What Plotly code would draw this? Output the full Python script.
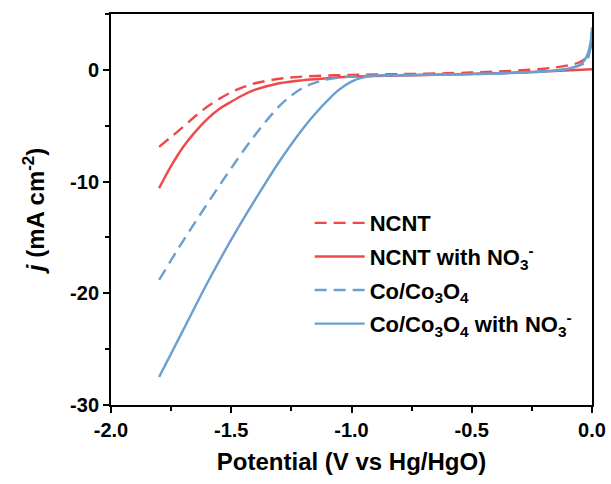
import plotly.graph_objects as go

# NCNT (dashed red)
ncnt_x = [-1.80, -1.75, -1.70, -1.65, -1.60, -1.55, -1.50, -1.45, -1.40, -1.30, -1.20, -1.00, -0.80, -0.60, -0.40, -0.20, -0.10, -0.05, -0.02, 0.00]
ncnt_y = [-6.9, -6.0, -5.1, -4.15, -3.3, -2.6, -2.0, -1.55, -1.2, -0.80, -0.60, -0.45, -0.38, -0.30, -0.15, 0.10, 0.40, 0.70, 1.20, 2.50]

# NCNT with NO3- (solid red)
ncnt_no3_x = [-1.80, -1.75, -1.70, -1.65, -1.60, -1.55, -1.50, -1.45, -1.40, -1.30, -1.20, -1.10, -1.00, -0.80, -0.60, -0.40, -0.20, 0.00]
ncnt_no3_y = [-10.6, -8.6, -6.9, -5.55, -4.4, -3.5, -2.85, -2.25, -1.78, -1.20, -0.92, -0.75, -0.60, -0.50, -0.42, -0.30, -0.15, 0.05]

# Co/Co3O4 (dashed blue)
co_x = [-1.80, -1.70, -1.60, -1.50, -1.40, -1.30, -1.25, -1.20, -1.15, -1.10, -1.00, -0.90, -0.70, -0.50, -0.30, -0.15, -0.08, -0.04, -0.02, -0.01, 0.00]
co_y = [-18.8, -15.3, -12.0, -8.8, -5.8, -3.25, -2.3, -1.58, -1.15, -0.85, -0.60, -0.50, -0.45, -0.38, -0.25, -0.05, 0.20, 0.50, 0.90, 1.60, 3.50]

# Co/Co3O4 with NO3- (solid blue)
co_no3_x = [-1.80, -1.70, -1.60, -1.50, -1.40, -1.30, -1.20, -1.15, -1.10, -1.05, -1.00, -0.95, -0.90, -0.80, -0.60, -0.40, -0.30, -0.20, -0.10, -0.05, -0.03, -0.015, -0.005, 0.00]
co_no3_y = [-27.5, -23.3, -19.1, -15.2, -11.6, -8.2, -5.2, -3.9, -2.75, -1.75, -1.05, -0.68, -0.52, -0.48, -0.42, -0.32, -0.25, -0.15, 0.10, 0.45, 0.90, 1.60, 2.60, 3.80]

x_ticks = [-2.0, -1.5, -1.0, -0.5, 0.0]
x_tick_labels = ["-2.0", "-1.5", "-1.0", "-0.5", "0.0"]
y_ticks = [0, -10, -20, -30]
y_tick_labels = ["0", "-10", "-20", "-30"]

RED = "#F04848"
BLUE = "#6A9FD0"
FONT = "Arial, Liberation Sans, sans-serif"

fig = go.Figure()
series = [
    (ncnt_x, ncnt_y, "NCNT", RED, "12px,7px"),
    (ncnt_no3_x, ncnt_no3_y, "NCNT with NO<sub>3</sub><sup>-</sup>", RED, "solid"),
    (co_x, co_y, "Co/Co<sub>3</sub>O<sub>4</sub>", BLUE, "12px,7px"),
    (co_no3_x, co_no3_y, "Co/Co<sub>3</sub>O<sub>4</sub> with NO<sub>3</sub><sup>-</sup>", BLUE, "solid"),
]
for i, (xs, ys, name, color, dash) in enumerate(series):
    fig.add_trace(go.Scatter(
        x=xs, y=ys, mode="lines", name=name, legendgroup=f"g{i}",
        line=dict(color=color, width=2.4, dash=dash, shape="spline", smoothing=1.0),
    ))

axis_common = dict(
    showline=True, linecolor="black", linewidth=2, mirror=True,
    ticks="outside", ticklen=6, tickwidth=2, tickcolor="black",
    showgrid=False, zeroline=False, automargin=False,
    tickfont=dict(family=FONT, size=20, color="black", weight="bold"),
    minor=dict(ticks="outside", ticklen=4, tickwidth=2, tickcolor="black", showgrid=False),
)

fig.update_xaxes(
    range=[-2.0, 0.0], tickvals=x_ticks, ticktext=x_tick_labels,
    minor_dtick=0.25,
    title=dict(text="Potential (V vs Hg/HgO)", font=dict(family=FONT, size=24, color="black", weight="bold"), standoff=13),
    **axis_common,
)
fig.update_yaxes(
    range=[-30, 5], tickvals=y_ticks, ticktext=y_tick_labels,
    minor_dtick=5, minor_tick0=0,
    title=dict(text="<i>j</i> (mA cm<sup>-2</sup>)", font=dict(family=FONT, size=24, color="black", weight="bold"), standoff=19),
    **axis_common,
)

fig.update_layout(
    width=611, height=484,
    margin=dict(l=111, r=19, t=14, b=79),
    paper_bgcolor="white", plot_bgcolor="white",
    showlegend=True,
    legend=dict(
        x=0.413, y=0.519, xanchor="left", yanchor="top",
        bgcolor="rgba(0,0,0,0)", borderwidth=0,
        font=dict(family=FONT, size=22, color="black", weight="bold"),
        tracegroupgap=2, itemwidth=50,
    ),
)

fig.write_html("out.html", config={"displayModeBar": False},
               post_script="document.body.style.margin='0';")
